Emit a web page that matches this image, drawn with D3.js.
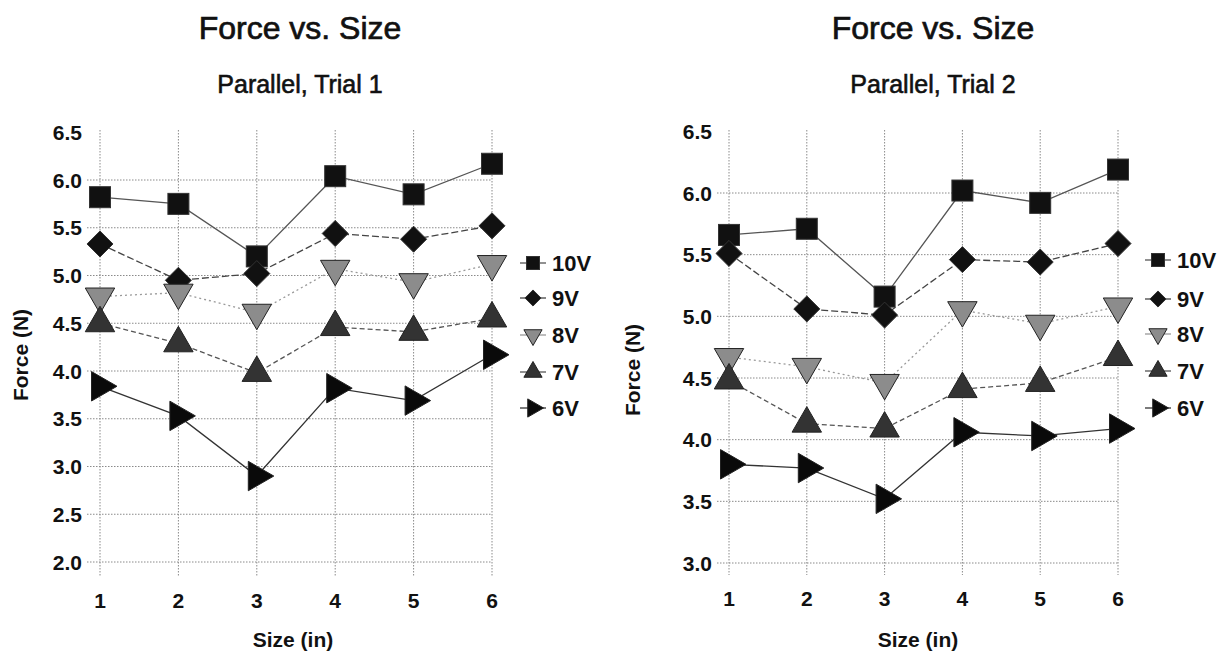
<!DOCTYPE html>
<html>
<head>
<script src="https://d3js.org/d3.v7.min.js"></script>
<style>
body { margin: 0; background: #fff; }
svg { font-family: "Liberation Sans", Arial, sans-serif; }
.grid line { stroke: #8a8a8a; stroke-width: 1; stroke-dasharray: 1.5,1.5; }
.tick-label { font-size: 21px; font-weight: bold; fill: #111; }
.title { font-size: 32px; fill: #111; stroke: #111; stroke-width: 0.7px; }
.subtitle { font-size: 25px; fill: #111; stroke: #111; stroke-width: 0.6px; }
.axis-label { font-size: 21px; font-weight: bold; fill: #111; }
.legend text { font-size: 22px; font-weight: bold; fill: #111; }
</style>
</head>
<body>
<svg width="1227" height="660"></svg>
<script>
const sizes = [1, 2, 3, 4, 5, 6];
const seriesNames = ["10V", "9V", "8V", "7V", "6V"];

// Trial 1 (left)
const trial1_10V = [5.82, 5.75, 5.20, 6.04, 5.85, 6.17];
const trial1_9V = [5.33, 4.95, 5.02, 5.44, 5.38, 5.52];
const trial1_8V = [4.78, 4.82, 4.61, 5.07, 4.93, 5.12];
const trial1_7V = [4.50, 4.29, 3.98, 4.46, 4.41, 4.55];
const trial1_6V = [3.84, 3.53, 2.90, 3.82, 3.69, 4.17];

// Trial 2 (right)
const trial2_10V = [5.66, 5.71, 5.16, 6.02, 5.92, 6.19];
const trial2_9V = [5.51, 5.06, 5.01, 5.46, 5.44, 5.59];
const trial2_8V = [4.67, 4.59, 4.46, 5.05, 4.94, 5.08];
const trial2_7V = [4.48, 4.13, 4.09, 4.41, 4.46, 4.67];
const trial2_6V = [3.80, 3.77, 3.52, 4.06, 4.03, 4.09];

const ticks1 = [2.0, 2.5, 3.0, 3.5, 4.0, 4.5, 5.0, 5.5, 6.0, 6.5];
const ticks2 = [3.0, 3.5, 4.0, 4.5, 5.0, 5.5, 6.0, 6.5];

const styles = {
  "10V": { shape: "square", fill: "#111", line: "#555", dash: null },
  "9V": { shape: "diamond", fill: "#111", line: "#444", dash: "7,3" },
  "8V": { shape: "down", fill: "#8c8c8c", line: "#999", dash: "2,3" },
  "7V": { shape: "up", fill: "#333", line: "#555", dash: "5,3" },
  "6V": { shape: "right", fill: "#0a0a0a", line: "#333", dash: null }
};

const svg = d3.select("svg");

function marker(g, shape, cx, cy, s, fill) {
  if (shape === "square") {
    g.append("rect").attr("x", cx - s / 2).attr("y", cy - s / 2)
      .attr("width", s).attr("height", s).attr("fill", fill).attr("stroke", "#333");
  } else if (shape === "diamond") {
    const r = s * 0.62;
    g.append("path").attr("d", `M${cx},${cy - r}L${cx + r},${cy}L${cx},${cy + r}L${cx - r},${cy}Z`)
      .attr("fill", fill).attr("stroke", "#333");
  } else {
    const rot = { up: 0, down: 180, right: 90 }[shape];
    const area = s * s * 0.85;
    g.append("path").attr("d", d3.symbol(d3.symbolTriangle, area)())
      .attr("transform", `translate(${cx},${cy}) rotate(${rot})`)
      .attr("fill", fill).attr("stroke", "#222");
  }
}

function drawPanel(p) {
  const x = d3.scaleLinear().domain([1, 6]).range([p.x1, p.x6]);
  const y = d3.scaleLinear().domain([p.yLo, 6]).range([p.yLoPx, p.y6Px]);
  const g = svg.append("g");

  const grid = g.append("g").attr("class", "grid");
  grid.selectAll(".v").data(sizes).join("line")
    .attr("x1", d => x(d)).attr("x2", d => x(d))
    .attr("y1", p.top).attr("y2", p.bottom);
  grid.selectAll(".h").data(p.ticks.filter(t => t < 6.5)).join("line")
    .attr("x1", p.left).attr("x2", x(6))
    .attr("y1", d => y(d)).attr("y2", d => y(d));

  g.selectAll(".ytick").data(p.ticks).join("text")
    .attr("class", "tick-label").attr("text-anchor", "end")
    .attr("x", p.left - 5).attr("y", d => y(d)).attr("dy", "0.36em")
    .text(d => d3.format(".1f")(d));
  g.selectAll(".xtick").data(sizes).join("text")
    .attr("class", "tick-label").attr("text-anchor", "middle")
    .attr("x", d => x(d)).attr("y", p.bottom + 31)
    .text(d => d);

  const line = d3.line().x((d, i) => x(sizes[i])).y(d => y(d));
  seriesNames.forEach(name => {
    const st = styles[name];
    g.append("path").datum(p.data[name])
      .attr("fill", "none").attr("stroke", st.line).attr("stroke-width", 1.3)
      .attr("stroke-dasharray", st.dash).attr("d", line);
  });
  seriesNames.forEach(name => {
    const st = styles[name];
    p.data[name].forEach((v, i) => marker(g, st.shape, x(sizes[i]), y(v), 21, st.fill));
  });

  g.append("text").attr("class", "title").attr("text-anchor", "middle")
    .attr("x", p.cx).attr("y", 39).text("Force vs. Size");
  g.append("text").attr("class", "subtitle").attr("text-anchor", "middle")
    .attr("x", p.cx).attr("y", 93).text(p.subtitle);
  g.append("text").attr("class", "axis-label").attr("text-anchor", "middle")
    .attr("transform", `translate(${p.ylabX},${p.ylabY}) rotate(-90)`)
    .text("Force (N)");
  g.append("text").attr("class", "axis-label").attr("text-anchor", "middle")
    .attr("x", p.xlabX).attr("y", p.xlabY).text("Size (in)");

  const lg = g.append("g").attr("class", "legend");
  seriesNames.forEach((name, i) => {
    const st = styles[name];
    const ly = p.legY[i];
    lg.append("line").attr("x1", p.legX - 13).attr("x2", p.legX + 13)
      .attr("y1", ly).attr("y2", ly).attr("stroke", st.line).attr("stroke-width", 1.3);
    marker(lg, st.shape, p.legX, ly, 13, st.fill);
    lg.append("text").attr("x", p.legX + 19).attr("y", ly).attr("dy", "0.36em").text(name);
  });
}

drawPanel({
  x1: 100, x6: 492, yLo: 2, yLoPx: 562, y6Px: 180,
  left: 87, top: 130, bottom: 577, ticks: ticks1,
  cx: 300, subtitle: "Parallel, Trial 1",
  ylabX: 28, ylabY: 355, xlabX: 293, xlabY: 647,
  legX: 533, legY: [263, 298, 335, 372, 408],
  data: { "10V": trial1_10V, "9V": trial1_9V, "8V": trial1_8V, "7V": trial1_7V, "6V": trial1_6V }
});

drawPanel({
  x1: 729, x6: 1118, yLo: 3, yLoPx: 563, y6Px: 193,
  left: 717, top: 130, bottom: 575, ticks: ticks2,
  cx: 933, subtitle: "Parallel, Trial 2",
  ylabX: 640, ylabY: 370, xlabX: 918, xlabY: 647,
  legX: 1158, legY: [260, 299, 334, 371, 408],
  data: { "10V": trial2_10V, "9V": trial2_9V, "8V": trial2_8V, "7V": trial2_7V, "6V": trial2_6V }
});
</script>
</body>
</html>
